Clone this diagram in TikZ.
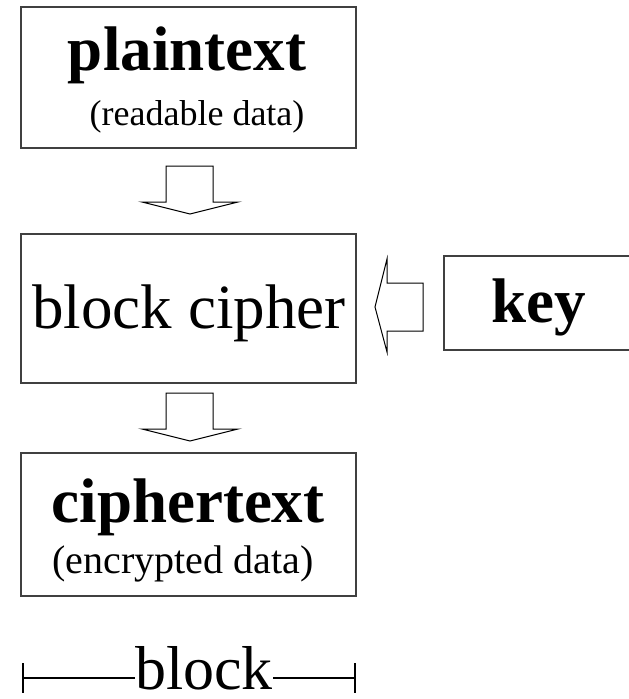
\documentclass[tikz,border=0pt]{standalone}
\usepackage{fontspec}
\setmainfont{Liberation Serif}
\begin{document}
\begin{tikzpicture}[x=1pt,y=-1pt,
  box/.style={draw=black!75,line width=1.3pt,inner sep=0pt},
  big/.style={font=\fontsize{63}{70}\selectfont,inner sep=0pt,anchor=base},
  small/.style={font=\fontsize{38}{42}\selectfont,inner sep=0pt,anchor=base},
  barrow/.style={draw=black,line width=1pt,fill=white,line join=miter}]
\useasboundingbox (0,0) rectangle (629,699);
% boxes
\draw[box] (21,7) rectangle (356,148);
\draw[box] (21,234) rectangle (356,383);
\draw[box] (444,256) rectangle (640,350);
\draw[box] (21,453) rectangle (356,596);
% texts
\node[big,font=\fontsize{63}{70}\selectfont\bfseries] (ptxt) at (187,70) {plaintext};
\node[small,font=\fontsize{36}{40}\selectfont] (ptsub) at (197,125) {(readable data)};
\node[big] (bctxt) at (189,328) {block cipher};
\node[big,font=\fontsize{63}{70}\selectfont\bfseries] (key) at (539,322) {key};
\node[big,font=\fontsize{63}{70}\selectfont\bfseries] (ctxt) at (188,522) {ciphertext};
\node[small,font=\fontsize{40}{44}\selectfont] (ctsub) at (183,573) {(encrypted data)};
% block arrows
\draw[barrow] (166,166) -- (213,166) -- (213,202) -- (238,202) -- (190,214) -- (142,202) -- (166,202) -- cycle;
\draw[barrow] (166,393) -- (213,393) -- (213,429) -- (238,429) -- (190,441) -- (142,429) -- (166,429) -- cycle;
\draw[barrow] (423,283) -- (423,331) -- (387,331) -- (387,352) -- (375,307) -- (387,259) -- (387,283) -- cycle;
% block scale
\node[big,font=\fontsize{62}{68}\selectfont] (blk) at (204,689) {block};
\coordinate (l0) at (23,678);
\coordinate (r0) at (355,678);
\draw[line width=1.5pt] (l0) -- (blk.west |- l0);
\draw[line width=1.5pt] (blk.east |- r0) -- (r0);
\draw[line width=2pt] (23,663) -- (23,693);
\draw[line width=2pt] (355,663) -- (355,693);
\end{tikzpicture}
\end{document}
